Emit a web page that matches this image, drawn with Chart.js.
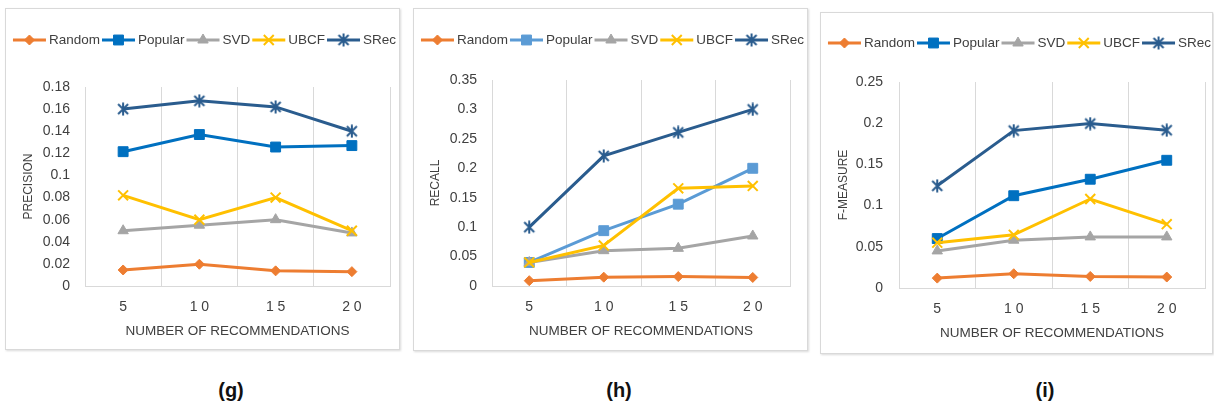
<!DOCTYPE html>
<html><head><meta charset="utf-8">
<script src="https://cdn.jsdelivr.net/npm/chart.js@4.4.0/dist/chart.umd.min.js"></script>
<style>
html,body{margin:0;padding:0;background:#fff;width:1214px;height:409px;overflow:hidden;position:relative;font-family:'Liberation Sans',Arial,sans-serif}
.box{position:absolute;border:1px solid #d9d9d9;box-shadow:1px 1px 2px rgba(0,0,0,0.15);box-sizing:border-box;pointer-events:none;z-index:2}
canvas{position:absolute}
.cap{position:absolute;font-weight:bold;font-size:20px;color:#111;transform:translate(-50%,-50%);white-space:nowrap}
</style></head><body>
<div class="box" style="left:5px;top:8px;width:395px;height:342px"></div>
<div class="box" style="left:413px;top:8px;width:395px;height:343px"></div>
<div class="box" style="left:820px;top:12px;width:393px;height:342px"></div>
<canvas id="cg" style="left:6px;top:9px;width:393px;height:340px"></canvas>
<canvas id="ch" style="left:414px;top:9px;width:393px;height:341px"></canvas>
<canvas id="ci" style="left:821px;top:13px;width:393px;height:340px"></canvas>
<div class="cap" style="left:231px;top:390px">(g)</div>
<div class="cap" style="left:619px;top:390px">(h)</div>
<div class="cap" style="left:1045px;top:390px">(i)</div>
<script>
// ---- data ----
const categories = ['5', '10', '15', '20'];
const seriesNames = ['Random', 'Popular', 'SVD', 'UBCF', 'SRec'];

const precisionRandom  = [0.0145, 0.0197, 0.0137, 0.013];
const precisionPopular = [0.1215, 0.137, 0.1257, 0.127];
const precisionSVD     = [0.05, 0.055, 0.06, 0.048];
const precisionUBCF    = [0.082, 0.06, 0.08, 0.05];
const precisionSRec    = [0.16, 0.1675, 0.162, 0.14];

const recallRandom  = [0.009, 0.015, 0.016, 0.0145];
const recallPopular = [0.04, 0.094, 0.139, 0.2];
const recallSVD     = [0.04, 0.06, 0.064, 0.085];
const recallUBCF    = [0.04, 0.069, 0.166, 0.17];
const recallSRec    = [0.1, 0.221, 0.261, 0.3];

const fRandom  = [0.012, 0.0173, 0.014, 0.0133];
const fPopular = [0.06, 0.112, 0.132, 0.155];
const fSVD     = [0.045, 0.058, 0.062, 0.062];
const fUBCF    = [0.055, 0.0645, 0.108, 0.0775];
const fSRec    = [0.124, 0.191, 0.1995, 0.1915];

const precisionTicks = [0, 0.02, 0.04, 0.06, 0.08, 0.1, 0.12, 0.14, 0.16, 0.18];
const recallTicks    = [0, 0.05, 0.1, 0.15, 0.2, 0.25, 0.3, 0.35];
const fTicks         = [0, 0.05, 0.1, 0.15, 0.2, 0.25];

const xTitle = 'NUMBER OF RECOMMENDATIONS';

// ---- styles ----
const FONT = "'Liberation Sans', Arial, sans-serif";
const TEXT = '#404040';
const GRID = '#d9d9d9';
const cRandom = '#ED7D31', cPopDark = '#0070C0', cPopLight = '#5B9BD5', cSVD = '#A5A5A5', cUBCF = '#FFC000', cSRec = '#2A5C8E';

function asteriskMarker(color) {
  const c = document.createElement('canvas');
  c.width = 14; c.height = 14;
  const x = c.getContext('2d');
  x.strokeStyle = color; x.lineWidth = 2; x.lineCap = 'butt';
  x.beginPath();
  x.moveTo(2, 2); x.lineTo(12, 12);
  x.moveTo(12, 2); x.lineTo(2, 12);
  x.moveTo(7, 0.5); x.lineTo(7, 13.5);
  x.stroke();
  return c;
}
const srecMarker = asteriskMarker(cSRec);

const markerStyles = [
  {pointStyle: 'rectRot', pointRadius: 5, pointBorderWidth: 1},
  {pointStyle: 'rect', pointRadius: 7, pointBorderWidth: 1},
  {pointStyle: 'triangle', pointRadius: 6, pointBorderWidth: 1},
  {pointStyle: 'crossRot', pointRadius: 7, pointBorderWidth: 2},
  {pointStyle: srecMarker, pointRadius: 7, pointBorderWidth: 1}
];

function datasetsFor(values, popularColor) {
  const colors = [cRandom, popularColor, cSVD, cUBCF, cSRec];
  return values.map((v, i) => Object.assign({
    label: seriesNames[i],
    data: v,
    borderColor: colors[i],
    backgroundColor: colors[i],
    pointBackgroundColor: colors[i],
    pointBorderColor: colors[i],
    borderWidth: 3,
    tension: 0,
    order: 5 - i,
    clip: false
  }, markerStyles[i]));
}

const legendPlugin = {
  id: 'excelLegend',
  afterDraw(chart, args, opts) {
    const ctx = chart.ctx;
    ctx.save();
    ctx.font = '13.5px ' + FONT;
    const lineLen = 33, gapText = 3, gapItem = 2;
    const items = chart.data.datasets.map(d => ({d, w: ctx.measureText(d.label).width}));
    const total = items.reduce((s, it) => s + lineLen + gapText + it.w, 0) + gapItem * (items.length - 1);
    let x = chart.width / 2 - total / 2 + (opts.shift || 0);
    const y = opts.y;
    items.forEach(it => {
      const d = it.d;
      ctx.strokeStyle = d.borderColor;
      ctx.lineWidth = 3;
      ctx.beginPath();
      ctx.moveTo(x, y); ctx.lineTo(x + lineLen, y);
      ctx.stroke();
      ctx.fillStyle = d.pointBackgroundColor;
      ctx.strokeStyle = d.pointBorderColor;
      ctx.lineWidth = d.pointBorderWidth;
      Chart.helpers.drawPoint(ctx, {pointStyle: d.pointStyle, radius: d.pointRadius, borderWidth: d.pointBorderWidth, rotation: 0}, x + lineLen / 2, y);
      x += lineLen + gapText;
      ctx.fillStyle = TEXT;
      ctx.textAlign = 'left';
      ctx.textBaseline = 'middle';
      ctx.fillText(d.label, x, y + 0.5);
      x += it.w + gapItem;
    });
    ctx.restore();
  }
};

function makeChart(id, p) {
  new Chart(document.getElementById(id), {
    type: 'line',
    data: {labels: categories, datasets: datasetsFor(p.values, p.popColor)},
    plugins: [legendPlugin],
    options: {
      responsive: false,
      animation: false,
      devicePixelRatio: 1,
      layout: {padding: {top: p.top, right: p.right, left: 0, bottom: 0}},
      plugins: {
        legend: {display: false},
        tooltip: {enabled: false},
        excelLegend: {y: p.legendY, shift: 2}
      },
      scales: {
        x: {
          type: 'category',
          offset: true,
          grid: {display: true, offset: true, color: GRID, lineWidth: 1, drawTicks: false},
          border: {display: true, color: GRID, width: 1},
          ticks: {
            color: TEXT, font: {family: FONT, size: 14}, padding: 13,
            maxRotation: 0, autoSkip: false,
            callback: function (v) { return this.getLabelForValue(v).split('').join(' '); }
          },
          title: {display: true, text: xTitle, color: TEXT, font: {family: FONT, size: 13.5}, padding: {top: 0, bottom: p.xTitlePad}},
          afterFit: s => { s.height = p.xHeight; }
        },
        y: {
          min: 0, max: p.ticks[p.ticks.length - 1],
          grid: {display: false, drawTicks: false},
          border: {display: false},
          afterBuildTicks: s => { s.ticks = p.ticks.map(v => ({value: v})); },
          ticks: {
            color: TEXT, font: {family: FONT, size: 14}, padding: p.yTickPad,
            callback: v => String(+v.toFixed(4))
          },
          title: {display: true, text: p.yTitle, color: TEXT, font: {family: FONT, size: 12}, padding: {top: p.yTitlePad, bottom: 0}},
          afterFit: s => { s.width = p.yWidth; }
        }
      }
    }
  });
}

makeChart('cg', {
  values: [precisionRandom, precisionPopular, precisionSVD, precisionUBCF, precisionSRec],
  popColor: cPopDark, ticks: precisionTicks, yTitle: 'PRECISION',
  top: 78, right: 0, xHeight: 63, yWidth: 79, yTickPad: 15, yTitlePad: 15, xTitlePad: 10, legendY: 31
});
makeChart('ch', {
  values: [recallRandom, recallPopular, recallSVD, recallUBCF, recallSRec],
  popColor: cPopLight, ticks: recallTicks, yTitle: 'RECALL',
  top: 71, right: 17, xHeight: 64, yWidth: 78, yTickPad: 15, yTitlePad: 14, xTitlePad: 11, legendY: 31
});
makeChart('ci', {
  values: [fRandom, fPopular, fSVD, fUBCF, fSRec],
  popColor: cPopDark, ticks: fTicks, yTitle: 'F-MEASURE',
  top: 69, right: 0, xHeight: 65, yWidth: 78, yTickPad: 16, yTitlePad: 15, xTitlePad: 12, legendY: 30
});
</script>
</body></html>
